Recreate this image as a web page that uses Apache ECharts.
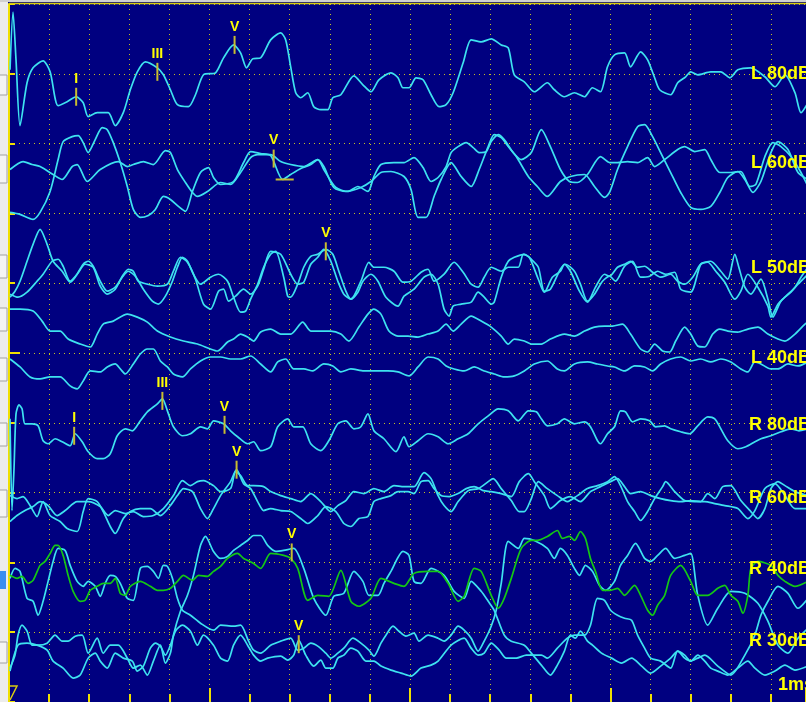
<!DOCTYPE html>
<html><head><meta charset="utf-8">
<script src="https://cdn.jsdelivr.net/npm/echarts/dist/echarts.min.js"></script>
<style>html,body{margin:0;padding:0;background:#000080;overflow:hidden}#c{width:806px;height:702px}</style>
</head><body><div id="c"></div>
<script>
// Time in samples (40 samples = 1 ms); amplitude in display units relative to each channel baseline.
const L80 = [[1,4],[4,62],[7,14],[11,-52],[18,-9],[24,6],[34,13],[41,2],[49,-32],[58,-28],[67,-23],[74,-29],[79,-43],[88,-39],[99,-39],[106,-52],[114,-39],[121,-16],[128,2],[136,12],[148,6],[154,-1],[161,-16],[168,-31],[179,-33],[186,-21],[194,-1],[206,1],[214,16],[224,29],[231,21],[237,6],[243,15],[251,16],[261,34],[271,41],[276,34],[281,7],[286,-19],[291,-24],[298,-19],[304,-33],[311,-36],[318,-36],[323,-24],[331,-21],[344,-2],[353,-11],[361,-18],[369,-6],[381,1],[388,-4],[393,-14],[399,-14],[406,-4],[413,-6],[421,-21],[429,-33],[436,-31],[443,-19],[453,11],[461,34],[471,32],[481,35],[491,29],[498,26],[504,-1],[514,-8],[524,-18],[537,-9],[544,-16],[554,-23],[564,-19],[574,-23],[582,-14],[590,-18],[597,7],[604,19],[614,21],[620,7],[630,22],[637,14],[644,-4],[649,-16],[660,-21],[667,-9],[675,-3],[680,2],[687,-1],[700,2],[710,2],[719,-4],[727,4],[740,6],[754,-3],[764,-13],[774,-1],[784,-19],[790,-39],[797,-29]];
const L60a = [[1,-5],[14,3],[23,0],[31,-2],[44,-10],[53,-15],[63,-2],[68,0],[78,-17],[91,-5],[109,3],[118,-2],[124,0],[134,3],[144,0],[156,14],[161,12],[168,-5],[176,-18],[183,-28],[188,-32],[198,-27],[211,-18],[221,-20],[231,-8],[241,7],[248,10],[261,10],[271,3],[281,0],[294,-2],[308,5],[314,-5],[326,-23],[338,-27],[348,-22],[358,-27],[364,-12],[371,0],[384,2],[394,2],[404,7],[413,-3],[421,-17],[428,-13],[436,-2],[441,12],[448,18],[456,22],[463,17],[469,12],[476,13],[481,23],[488,30],[494,25],[503,12],[511,5],[521,12],[531,35],[540,18],[550,-5],[559,-17],[567,-18],[577,-10],[590,8],[599,2],[607,2],[617,3],[627,2],[637,7],[644,-2],[654,5],[667,15],[674,18],[684,13],[694,15],[700,5],[709,-8],[720,-8],[730,-7],[739,-22],[745,-20],[754,8],[762,22],[770,18],[780,8],[790,-8],[797,-22]];
const L60b = [[1,-48],[11,-50],[24,-55],[31,-48],[41,-27],[49,5],[54,23],[63,28],[69,29],[74,22],[79,12],[86,25],[93,37],[98,35],[104,22],[111,2],[118,-22],[124,-45],[131,-53],[139,-51],[146,-45],[154,-32],[161,-35],[169,-42],[176,-47],[183,-27],[191,-8],[199,-3],[204,-13],[211,-20],[224,-17],[234,2],[241,13],[251,11],[261,9],[273,-15],[281,-10],[291,-4],[301,0],[308,5],[314,-2],[324,-23],[336,-27],[351,-23],[361,-17],[371,-8],[381,-7],[394,-12],[401,-25],[408,-53],[416,-53],[424,-32],[431,-15],[441,2],[451,-12],[461,-22],[469,-5],[478,18],[484,30],[491,27],[498,18],[506,8],[518,-12],[527,-22],[537,-32],[550,-17],[560,-12],[574,-10],[584,-22],[594,-33],[599,-28],[607,-5],[617,18],[627,38],[634,40],[642,28],[650,12],[660,-8],[670,-28],[680,-43],[690,-45],[700,-42],[709,-28],[717,-13],[727,-7],[734,-15],[742,-28],[750,-17],[760,12],[767,23],[777,15],[787,-8],[797,-15]];
const L50a = [[1,-15],[6,-9],[11,1],[18,21],[24,38],[31,53],[38,38],[44,21],[53,11],[61,0],[66,5],[74,18],[79,21],[84,16],[91,1],[98,-9],[106,-5],[113,5],[119,11],[126,6],[134,-7],[143,-19],[149,-22],[156,-14],[163,1],[168,15],[173,25],[178,21],[184,8],[191,-2],[201,5],[209,8],[218,1],[224,-15],[231,-30],[236,-29],[241,-17],[248,-2],[254,15],[261,28],[266,31],[274,5],[278,-14],[281,-15],[288,-2],[294,15],[301,26],[308,28],[316,33],[323,28],[329,11],[336,-9],[341,-17],[348,-10],[353,1],[361,8],[368,1],[376,-15],[388,-24],[394,-14],[404,-7],[414,5],[421,8],[428,-2],[434,-27],[439,-34],[443,-24],[451,-22],[461,-20],[468,-10],[474,-15],[481,-22],[484,-20],[491,5],[498,21],[504,25],[514,28],[521,23],[528,15],[534,-9],[540,-7],[550,13],[555,18],[564,11],[570,-2],[577,-19],[584,-12],[592,1],[599,6],[605,1],[614,16],[622,21],[630,5],[639,6],[647,11],[655,8],[664,10],[670,-7],[680,-10],[690,18],[697,20],[705,11],[714,0],[724,-17],[730,-9],[737,8],[747,-5],[757,-24],[760,-35],[767,-22],[775,-14],[784,-5],[790,5],[797,15]];
const L50b = [[1,-12],[9,-15],[18,-10],[28,1],[34,8],[43,21],[49,23],[54,16],[61,1],[68,8],[76,18],[84,15],[91,-4],[98,-12],[106,-7],[113,6],[119,13],[124,11],[129,1],[138,-2],[148,-4],[158,-2],[164,11],[171,25],[178,20],[186,3],[194,-22],[201,-27],[209,-9],[214,-7],[219,-19],[226,-14],[234,-7],[241,-12],[248,-4],[254,13],[261,31],[271,28],[281,8],[288,-2],[294,0],[301,18],[308,25],[314,33],[321,21],[328,1],[334,-12],[341,-17],[351,1],[359,20],[364,15],[374,15],[384,11],[393,0],[401,1],[411,10],[418,13],[424,1],[434,8],[444,20],[453,10],[461,-2],[468,-5],[474,5],[481,15],[491,11],[498,15],[508,15],[513,28],[519,25],[528,3],[534,-10],[542,5],[550,11],[554,18],[560,11],[569,-9],[577,-20],[585,-5],[594,8],[599,6],[607,15],[614,18],[620,21],[627,15],[634,16],[642,10],[650,5],[660,8],[667,1],[674,-2],[682,5],[690,18],[700,21],[710,11],[717,3],[724,28],[728,15],[734,-5],[740,-12],[750,3],[757,-17],[762,-35],[770,-19],[780,-10],[787,-2],[797,8]];
const L40a = [[1,43],[11,43],[24,41],[33,31],[41,21],[51,21],[59,13],[71,8],[81,5],[88,18],[94,28],[104,31],[118,38],[128,35],[138,30],[148,21],[161,15],[174,11],[188,8],[201,3],[208,1],[218,10],[224,13],[231,18],[238,15],[244,11],[251,20],[261,23],[271,18],[281,18],[293,30],[301,21],[311,21],[321,21],[331,18],[339,11],[349,25],[358,38],[364,43],[371,38],[379,21],[388,16],[398,16],[408,15],[418,18],[428,21],[436,28],[443,21],[451,28],[461,36],[471,31],[481,25],[491,16],[498,8],[504,13],[514,11],[521,8],[531,8],[540,13],[554,18],[564,16],[574,21],[584,25],[594,26],[602,26],[612,28],[620,18],[630,3],[637,0],[644,8],[652,1],[659,0],[665,11],[674,25],[680,18],[687,6],[694,5],[702,18],[709,23],[717,21],[727,20],[737,23],[747,25],[757,18],[767,13],[774,11],[784,18],[794,28],[797,30]];
const L40b = [[1,-7],[11,-15],[21,-25],[31,-27],[41,-25],[51,-25],[61,-34],[68,-37],[74,-29],[81,-19],[91,-20],[98,-15],[106,-12],[111,-17],[116,-22],[124,-12],[131,-2],[138,3],[144,3],[151,-9],[158,-15],[164,-22],[173,-25],[181,-17],[191,-9],[201,-5],[211,-5],[221,-7],[231,-7],[241,-4],[251,-12],[261,-20],[268,-10],[276,-7],[284,-17],[294,-17],[303,-19],[314,-12],[323,-14],[331,-20],[341,-17],[354,-19],[368,-19],[378,-19],[388,-20],[399,-24],[408,-15],[418,-5],[428,-7],[436,-14],[444,-17],[454,-19],[464,-15],[474,-19],[484,-22],[494,-25],[504,-24],[514,-19],[524,-12],[537,-9],[547,-17],[554,-19],[564,-12],[577,-10],[587,-12],[597,-14],[604,-15],[614,-19],[624,-14],[634,-15],[642,-19],[650,-12],[660,-7],[670,-5],[680,-9],[690,-7],[700,-10],[710,-7],[720,-10],[730,-17],[737,-20],[744,-10],[750,-12],[760,-17],[767,-17],[777,-12],[787,-14],[797,-10]];
const R80 = [[1,4],[3,-88],[5,-46],[7,9],[10,18],[13,14],[16,-1],[23,-1],[29,-3],[34,-18],[39,-21],[46,-16],[53,-19],[61,-23],[66,-11],[73,-19],[79,-29],[88,-36],[94,-36],[101,-31],[108,-13],[116,-6],[123,-8],[131,2],[138,11],[148,19],[153,24],[158,12],[164,-4],[173,-13],[181,-11],[191,-4],[198,-6],[204,2],[214,-1],[221,-8],[228,-14],[238,-21],[244,-19],[251,-28],[261,-24],[268,-4],[278,4],[284,-4],[293,-4],[301,-21],[311,-28],[319,-18],[328,-1],[336,2],[344,-6],[351,-4],[358,9],[364,-8],[374,-16],[386,-29],[394,-14],[399,-24],[408,-18],[418,-11],[428,-14],[438,-21],[448,-16],[458,-11],[468,-1],[478,7],[488,14],[498,12],[508,2],[518,12],[526,11],[531,4],[537,-3],[547,-1],[554,4],[564,-1],[574,1],[580,-4],[587,-18],[590,-21],[597,-11],[604,-4],[610,12],[615,11],[622,1],[630,4],[639,2],[645,-4],[654,-3],[660,-6],[670,-9],[679,-11],[687,-3],[697,6],[704,4],[710,-6],[717,-18],[727,-26],[735,-24],[744,-19],[750,-16],[760,-13],[770,-9],[780,-6],[788,-8],[797,-6]];
const R60a = [[1,-30],[8,-24],[16,-19],[24,-15],[31,-10],[39,-14],[48,-24],[56,-19],[68,-10],[79,-10],[91,-15],[99,-24],[106,-19],[116,-22],[124,-20],[134,-25],[144,-24],[154,-17],[164,-4],[173,11],[181,6],[188,10],[194,11],[204,6],[211,0],[221,3],[226,20],[231,16],[238,6],[244,6],[254,5],[261,0],[271,-4],[281,-7],[291,-10],[301,-2],[311,-10],[321,-20],[328,-14],[336,-9],[344,0],[354,-2],[364,3],[374,0],[384,6],[394,5],[404,5],[414,19],[421,13],[428,-4],[434,-14],[441,-20],[448,-10],[458,1],[468,3],[478,10],[483,13],[491,3],[501,-9],[509,-20],[514,-20],[521,-7],[528,10],[537,3],[547,-4],[557,-10],[567,-4],[577,3],[587,6],[597,10],[604,15],[610,6],[617,-10],[624,-20],[630,-29],[637,-20],[644,-7],[652,5],[655,10],[664,0],[674,-9],[684,-10],[694,-10],[704,-12],[714,-14],[727,-17],[737,-27],[744,-19],[754,3],[764,8],[774,-4],[784,-17],[797,-17]];
const R60b = [[1,-4],[8,-7],[14,-5],[21,-14],[28,-25],[34,-10],[41,-24],[51,-30],[58,-37],[68,-40],[74,-20],[79,-7],[88,-10],[94,-20],[101,-35],[106,-42],[114,-27],[121,-20],[131,-17],[141,-17],[151,-24],[161,-14],[168,-4],[174,3],[183,0],[191,-17],[198,-27],[204,-17],[211,-4],[221,10],[227,22],[234,8],[241,3],[248,-10],[254,-19],[261,-17],[271,-19],[281,-20],[291,-27],[298,-32],[308,-24],[316,-15],[326,-20],[334,-32],[341,-35],[349,-27],[358,-25],[364,-10],[371,-7],[381,-4],[388,0],[398,0],[404,-2],[411,10],[418,11],[424,3],[431,-4],[439,-5],[448,-2],[456,3],[464,5],[473,1],[481,0],[491,-2],[501,-5],[509,10],[518,18],[524,10],[534,-4],[540,-17],[550,-9],[560,-5],[570,-10],[580,0],[590,5],[600,10],[607,13],[614,5],[620,-2],[630,0],[640,-4],[650,-7],[660,-9],[670,-10],[680,-9],[690,-10],[697,-2],[704,-7],[712,5],[720,6],[730,-9],[740,-20],[747,-27],[754,-17],[760,3],[767,10],[774,6],[784,0],[797,-4]];
const R40green = [[1,-13],[8,-16],[13,-14],[19,-21],[24,-18],[31,-3],[36,1],[41,9],[46,17],[49,17],[54,7],[59,-13],[64,-29],[71,-39],[76,-38],[81,-28],[88,-24],[94,-21],[101,-21],[106,-16],[111,-31],[116,-33],[121,-24],[131,-19],[141,-24],[148,-28],[154,-28],[161,-26],[168,-19],[174,-13],[183,-18],[189,-13],[198,-14],[204,-9],[211,-4],[218,4],[228,9],[234,4],[244,-1],[251,-6],[261,9],[274,7],[281,4],[288,-6],[298,-38],[308,-33],[319,-34],[331,-8],[341,-39],[349,-44],[361,-36],[371,-16],[384,-21],[394,-24],[404,-11],[418,-9],[428,-9],[438,-21],[448,-39],[454,-34],[464,-6],[471,-9],[481,-33],[488,-46],[494,-36],[501,-16],[511,14],[521,22],[527,22],[537,26],[547,32],[552,24],[559,26],[564,22],[570,31],[575,24],[580,4],[585,-9],[592,-28],[600,-28],[607,-26],[614,-33],[624,-23],[630,-33],[637,-48],[642,-53],[647,-43],[654,-33],[660,-13],[670,-3],[680,-19],[687,-33],[697,-33],[707,-26],[714,-23],[720,-33],[727,-39],[732,-51],[737,-33],[740,-6],[747,1],[760,-3],[767,-13],[774,-19],[784,-24],[797,-19]];
const R40a = [[1,-16],[6,-6],[11,-9],[18,-36],[24,-39],[29,-53],[34,-39],[39,-19],[44,1],[49,14],[56,12],[61,-3],[68,-19],[74,-24],[79,-19],[86,-24],[91,-34],[96,-21],[101,-13],[106,-14],[111,-21],[118,-36],[124,-38],[131,-6],[138,-4],[144,-9],[149,-16],[154,-3],[158,-4],[163,-16],[168,-36],[173,-48],[181,-53],[191,-61],[204,-68],[211,-63],[224,-64],[231,-63],[239,-79],[244,-88],[251,-91],[261,-83],[271,-79],[281,-76],[288,-88],[294,-86],[301,-81],[308,-84],[316,-91],[321,-96],[328,-91],[334,-86],[343,-76],[351,-81],[359,-88],[364,-94],[371,-81],[376,-73],[383,-64],[389,-69],[396,-74],[404,-71],[409,-79],[418,-73],[428,-76],[434,-79],[441,-73],[448,-64],[454,-68],[461,-76],[468,-89],[474,-79],[481,-64],[486,-48],[491,-21],[498,21],[508,14],[514,24],[524,22],[537,14],[544,4],[550,14],[557,7],[564,-6],[569,-13],[575,-3],[582,-9],[589,-23],[595,-28],[604,-19],[610,-3],[617,7],[625,19],[634,4],[640,1],[647,7],[655,14],[664,4],[674,7],[680,9],[687,-33],[697,-63],[707,-46],[720,-29],[734,-31],[747,-41],[757,-59],[767,-83],[777,-91],[787,-76],[797,-66]];
const R30a = [[1,-36],[6,-23],[9,-3],[13,7],[18,1],[23,-13],[29,-13],[38,-11],[46,-3],[53,-9],[59,-9],[66,-4],[73,-3],[79,-21],[88,-6],[94,-21],[101,-13],[109,-13],[118,-26],[124,-36],[131,-33],[138,-43],[144,-29],[151,-13],[156,-31],[161,-21],[164,-3],[171,21],[178,37],[184,57],[191,87],[196,96],[204,81],[211,74],[218,76],[224,82],[231,87],[238,92],[244,97],[251,97],[258,87],[266,81],[274,82],[284,84],[294,64],[304,34],[316,17],[324,36],[334,39],[344,61],[353,51],[359,37],[368,37],[374,49],[381,61],[393,81],[399,77],[404,51],[411,49],[421,64],[434,57],[444,41],[454,34],[461,51],[471,41],[478,31],[484,22],[494,-3],[501,-9],[514,-13],[521,-21],[531,-33],[540,-43],[547,-33],[554,-19],[560,-3],[565,-6],[570,1],[577,-9],[582,-13],[591,-21],[601,-26],[611,-31],[621,-26],[631,-34],[640,-41],[650,-34],[660,-26],[667,-19],[674,-26],[680,-29],[687,-23],[694,-29],[700,-36],[707,-39],[717,-43],[727,-36],[737,-29],[744,-36],[754,-43],[764,-39],[774,-33],[784,-38],[797,-34]];
const R30b = [[1,-39],[9,-13],[18,-11],[28,-13],[38,-18],[44,-29],[54,-36],[64,-46],[71,-43],[79,-26],[86,-21],[91,-29],[98,-36],[106,-21],[114,-26],[123,-29],[128,-39],[134,-34],[141,-16],[146,-11],[151,-14],[156,-23],[161,-13],[166,1],[173,7],[181,1],[188,-13],[194,-3],[204,-13],[211,-26],[218,-29],[224,-13],[231,-3],[238,-13],[244,-23],[251,-29],[258,-26],[271,-24],[278,-28],[284,-23],[289,-8],[296,-23],[304,-34],[311,-28],[316,-36],[323,-36],[328,-26],[334,-23],[341,-16],[348,-19],[356,-29],[364,-29],[371,-34],[381,-38],[391,-41],[401,-44],[411,-36],[421,-33],[428,-29],[441,-13],[454,-6],[461,-16],[468,-23],[474,-21],[481,-11],[489,-18],[496,-26],[506,-26],[516,-23],[531,-23],[537,-26],[547,-16],[557,-6],[564,-3],[574,-3],[580,7],[587,34],[594,32],[600,22],[607,17],[614,14],[621,12],[627,-3],[634,-16],[640,-26],[650,-29],[660,-36],[667,-19],[674,-23],[680,-29],[687,-26],[694,-23],[707,-34],[720,-43],[734,-23],[744,-3],[750,17],[757,31],[767,46],[777,39],[787,24],[797,34]];

// Channel names
const channelNames = ['L 80dB','L 60dB','L 50dB','L 40dB','R 80dB','R 60dB','R 40dB','R 30dB'];
// Peak labels (wave I, III, V)
const markerLabels   = ['I','III','V','V','V','I','III','V','V','V','V'];
const markerChannels = ['L80','L80','L80','L60','L50','R80','R80','R80','R60','R40','R30'];
const markerTimes    = [67,148,225,264,316,65,153,215,227,282,289];
const markerAmps     = [-14,11,38,15,40,-4,31,7,31,19,-3];
// L60 wave V latency bar: [start, end, amplitude]
const latencyBar = [266, 284, -15];
const scaleLabel = '1ms';

// ---- layout / style ----
const offset = {L80:630, L60:539, L50:421, L40:351, R80:280, R60:211, R40:140, R30:70};
const CYAN = '#3ee2f0', GREEN = '#14c814', YEL = '#ffff00', OLIVE = '#c8bc30', GRIDC = '#c8c020';
const FONT = 'bold 18px "Liberation Sans", Arial, sans-serif';
const traces = [
  ['L80',L80,CYAN],['L60',L60a,CYAN],['L60',L60b,CYAN],['L50',L50a,CYAN],['L50',L50b,CYAN],
  ['L40',L40a,CYAN],['L40',L40b,CYAN],['R80',R80,CYAN],['R60',R60a,CYAN],['R60',R60b,CYAN],
  ['R30',R30a,CYAN],['R30',R30b,CYAN],['R40',R40a,CYAN],['R40',R40green,GREEN]
];
const series = traces.map(([ch,pts,col]) => ({
  type:'line', data: pts.map(([t,a]) => [t, offset[ch] + a]),
  showSymbol:false, symbol:'none', smooth:0.25, silent:true, animation:false,
  lineStyle:{color:col, width:1.7}, z:2
}));
series.push({
  type:'custom', silent:true, animation:false, z:5,
  data: markerLabels.map((l,i) => [markerTimes[i], offset[markerChannels[i]] + markerAmps[i]]),
  renderItem: function(params, api){
    const p = api.coord([api.value(0), api.value(1)]);
    return {type:'group', children:[
      {type:'line', shape:{x1:p[0], y1:p[1], x2:p[0], y2:p[1]+18}, style:{stroke:OLIVE, lineWidth:2}},
      {type:'text', style:{text:markerLabels[params.dataIndex], x:p[0], y:p[1]-9, fill:YEL,
        font:'bold 14px "Liberation Sans", Arial, sans-serif', align:'center', verticalAlign:'middle',
        textAlign:'center', textVerticalAlign:'middle'}}
    ]};
  }
});
series.push({
  type:'custom', silent:true, animation:false, z:5,
  data: [[latencyBar[0], offset.L60 + latencyBar[2], latencyBar[1]]],
  renderItem: function(params, api){
    const a = api.coord([api.value(0), api.value(1)]);
    const b = api.coord([api.value(2), api.value(1)]);
    return {type:'line', shape:{x1:a[0], y1:a[1], x2:b[0], y2:b[1]}, style:{stroke:OLIVE, lineWidth:2}};
  }
});

const labelPos = [[751,74],[751,163],[751,268],[751,358],[749,425],[749,498],[749,569],[749,641]];
const graphics = [
  {type:'rect', shape:{x:0,y:0,width:8,height:702}, style:{fill:'#ececec'}, z:50},
  {type:'rect', shape:{x:0,y:0,width:806,height:2}, style:{fill:'#d0d0d0'}, z:50},
  {type:'line', shape:{x1:9,y1:3.5,x2:806,y2:3.5}, style:{stroke:'#d8cc10', lineWidth:1.5}, z:50},
  {type:'line', shape:{x1:9,y1:353,x2:20,y2:353}, style:{stroke:'#f0e000', lineWidth:2}, z:50},
  {type:'polyline', shape:{points:[[10,686],[17,686],[10,700]]}, style:{stroke:'#d8cc10', lineWidth:1.5, fill:'none'}, z:50}
];
[[75,95],[155,183],[255,278],[308,331],[358,381],[423,446],[490,517],[642,663]].forEach(([a,b]) =>
  graphics.push({type:'rect', shape:{x:-2,y:a,width:9,height:b-a}, style:{fill:'#f4f4f4', stroke:'#a0a0a0', lineWidth:1}, z:51}));
graphics.push({type:'rect', shape:{x:0,y:571,width:6,height:18}, style:{fill:'#3a8ef0'}, z:51});
channelNames.forEach((n,i) => graphics.push({type:'text', x:labelPos[i][0], y:labelPos[i][1],
  style:{text:n, fill:YEL, font:FONT, verticalAlign:'middle', textVerticalAlign:'middle'}, z:60}));
graphics.push({type:'text', x:778, y:685, style:{text:scaleLabel, fill:YEL, font:FONT, verticalAlign:'middle', textVerticalAlign:'middle'}, z:60});

const chart = echarts.init(document.getElementById('c'), null, {renderer:'canvas'});
chart.setOption({
  backgroundColor:'#000080',
  animation:false,
  grid:{left:9, top:4, width:797, height:700},
  xAxis:[
    {type:'value', min:0, max:795, interval:40, axisLine:{show:false}, axisLabel:{show:false},
     axisTick:{show:true, inside:true, length:8, lineStyle:{color:'#f0e000', width:2}},
     splitLine:{show:true, lineStyle:{color:GRIDC, type:[1,4], width:1}}},
    {type:'value', min:0, max:795, interval:200, position:'bottom', axisLine:{show:false}, axisLabel:{show:false},
     axisTick:{show:true, inside:true, length:14, lineStyle:{color:'#f0e000', width:2}}, splitLine:{show:false}}
  ],
  yAxis:{type:'value', min:0, max:700, interval:70,
    axisLine:{show:true, lineStyle:{color:'#f0e000', width:2}}, axisLabel:{show:false},
    axisTick:{show:true, inside:true, length:6, lineStyle:{color:'#f0e000', width:2}},
    splitLine:{show:true, lineStyle:{color:GRIDC, type:[1,4], width:1}}},
  series: series,
  graphic: graphics
});
</script></body></html>
